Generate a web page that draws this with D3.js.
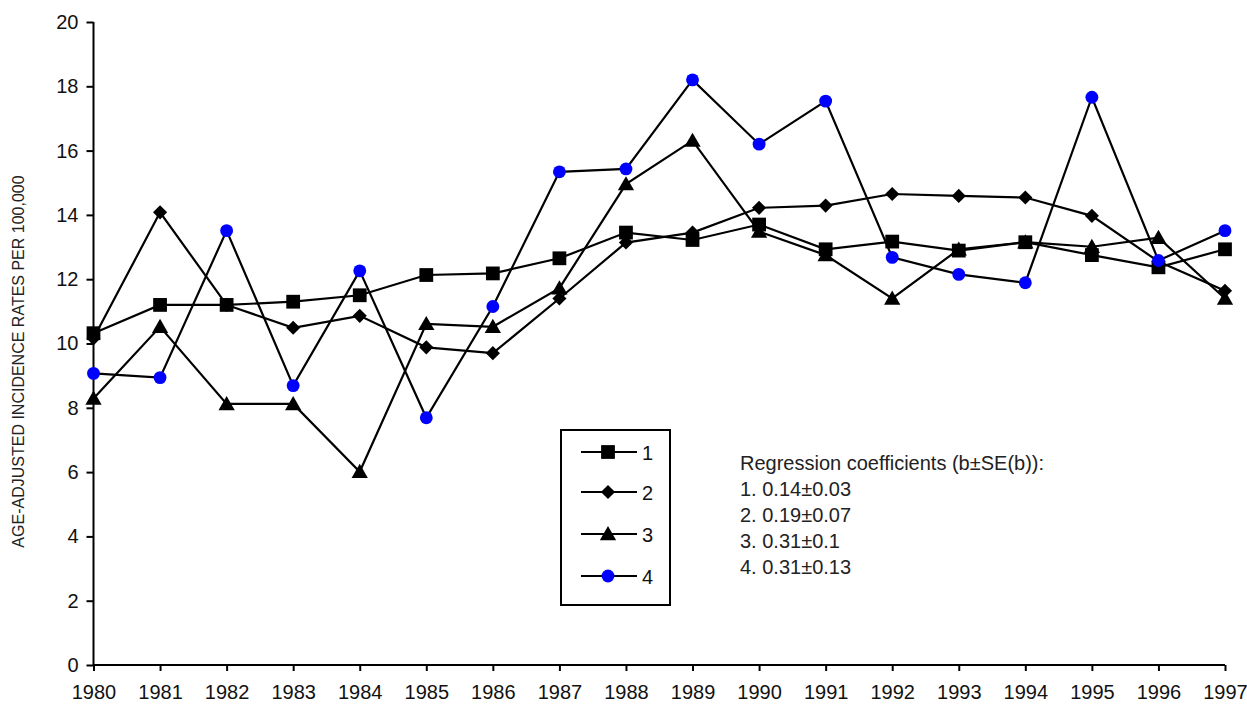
<!DOCTYPE html>
<html>
<head>
<meta charset="utf-8">
<script src="https://cdn.jsdelivr.net/npm/d3@7"></script>
<style>
  html, body { margin: 0; padding: 0; background: #fff; }
  svg { display: block; font-family: 'Liberation Sans Narrow', 'Arial Narrow', 'Liberation Sans', sans-serif; }
</style>
</head>
<body>
<div id="chart"></div>
<script>
// ── Data ────────────────────────────────────────────────────
const years = [1980, 1981, 1982, 1983, 1984, 1985, 1986, 1987, 1988,
               1989, 1990, 1991, 1992, 1993, 1994, 1995, 1996, 1997];

const series1 = [10.32, 11.2, 11.2, 11.3, 11.5, 12.13, 12.18, 12.65, 13.45,
                 13.22, 13.7, 12.93, 13.17, 12.89, 13.15, 12.75, 12.37, 12.93];
const series2 = [10.16, 14.08, 11.2, 10.49, 10.86, 9.88, 9.7, 11.4, 13.14,
                 13.45, 14.22, 14.29, 14.65, 14.59, 14.54, 13.97, 12.55, 11.64];
const series3 = [8.29, 10.52, 8.12, 8.12, 6.01, 10.61, 10.52, 11.72, 14.96,
                 16.31, 13.48, 12.75, 11.4, 12.93, 13.15, 13.01, 13.29, 11.4];
const series4 = [9.07, 8.94, 13.51, 8.69, 12.26, 7.69, 11.15, 15.34, 15.43,
                 18.2, 16.2, 17.54, 12.68, 12.15, 11.89, 17.66, 12.58, 13.51];

const seriesNames = ['1', '2', '3', '4'];
const yTicks = [0, 2, 4, 6, 8, 10, 12, 14, 16, 18, 20];
const yTitle = 'AGE-ADJUSTED INCIDENCE RATES PER 100,000';
const noteLines = [
  'Regression coefficients (b\u00b1SE(b)):',
  '1. 0.14\u00b10.03',
  '2. 0.19\u00b10.07',
  '3. 0.31\u00b10.1',
  '4. 0.31\u00b10.13'
];

// ── Layout ──────────────────────────────────────────────────
const W = 1247, H = 704;
const x = d3.scaleLinear().domain([1980, 1997]).range([93.5, 1225]);
const y = d3.scaleLinear().domain([0, 20]).range([665, 22]);

const svg = d3.select('#chart').append('svg')
  .attr('width', W).attr('height', H);

// marker shapes per series (diamond = square turned 45°)
const symbols = [
  { type: d3.symbolSquare, size: 190, fill: '#000', rot: 0, dy: 0 },
  { type: d3.symbolSquare, size: 100, fill: '#000', rot: 45, dy: 0 },
  { type: d3.symbolTriangle, size: 115, fill: '#000', rot: 0, dy: 1.5 },
  { type: d3.symbolCircle, size: 130, fill: '#0000ff', rot: 0, dy: 0 }
];

// ── Axes ────────────────────────────────────────────────────
const yAxis = svg.append('g')
  .attr('transform', `translate(${x.range()[0]},0)`)
  .call(d3.axisLeft(y).tickValues(yTicks).tickSize(7).tickPadding(8).tickFormat(d3.format('d')));

const xAxis = svg.append('g')
  .attr('transform', `translate(0,${y(0)})`)
  .call(d3.axisBottom(x).tickValues(years).tickSize(6).tickPadding(14).tickFormat(d3.format('d')));

[yAxis, xAxis].forEach(a => {
  a.select('.domain').attr('stroke', '#000').attr('stroke-width', 2);
  a.selectAll('.tick line').attr('stroke', '#000').attr('stroke-width', 2);
  a.selectAll('.tick text').attr('fill', '#111').attr('font-size', 20)
    .attr('font-family', null);
});
// remove the outer-tick hooks so the axes meet cleanly
yAxis.select('.domain').attr('d', `M0,${y(20)}V${y(0)}`);
xAxis.select('.domain').attr('d', `M${x.range()[0]},0H${x.range()[1]}`);

svg.append('text')
  .attr('transform', `translate(24,${(y(0) + y(20)) / 2 + 18}) rotate(-90)`)
  .attr('text-anchor', 'middle')
  .attr('font-size', 16)
  .attr('fill', '#222')
  .text(yTitle);

// ── Series ──────────────────────────────────────────────────
const allSeries = [series1, series2, series3, series4];
const line = d3.line().x((d, i) => x(years[i])).y(d => y(d));

allSeries.forEach((vals, si) => {
  const g = svg.append('g');
  g.append('path')
    .datum(vals)
    .attr('d', line)
    .attr('fill', 'none')
    .attr('stroke', '#000')
    .attr('stroke-width', 2.2);
  const sym = symbols[si];
  g.selectAll('path.mk')
    .data(vals).join('path')
    .attr('class', 'mk')
    .attr('transform', (d, i) => `translate(${x(years[i])},${y(d) + sym.dy}) rotate(${sym.rot})`)
    .attr('d', d3.symbol(sym.type, sym.size))
    .attr('fill', sym.fill);
});

// ── Legend ──────────────────────────────────────────────────
const legend = svg.append('g');
legend.append('rect')
  .attr('x', 561).attr('y', 430)
  .attr('width', 109).attr('height', 175)
  .attr('fill', '#fff').attr('stroke', '#000').attr('stroke-width', 2);

const legendRows = [452, 492, 534, 576];
seriesNames.forEach((name, i) => {
  const ly = legendRows[i];
  const sym = symbols[i];
  legend.append('line')
    .attr('x1', 581).attr('x2', 637).attr('y1', ly).attr('y2', ly)
    .attr('stroke', '#000').attr('stroke-width', 2.2);
  legend.append('path')
    .attr('transform', `translate(608,${ly + sym.dy}) rotate(${sym.rot})`)
    .attr('d', d3.symbol(sym.type, sym.size))
    .attr('fill', sym.fill);
  legend.append('text')
    .attr('x', 642).attr('y', ly + 8)
    .attr('font-size', 20).attr('fill', '#111')
    .text(name);
});

// ── Regression note ─────────────────────────────────────────
svg.append('g').selectAll('text')
  .data(noteLines).join('text')
  .attr('x', 740)
  .attr('y', (d, i) => 470 + i * 26)
  .attr('font-size', 20)
  .attr('fill', '#222')
  .text(d => d);
</script>
</body>
</html>
